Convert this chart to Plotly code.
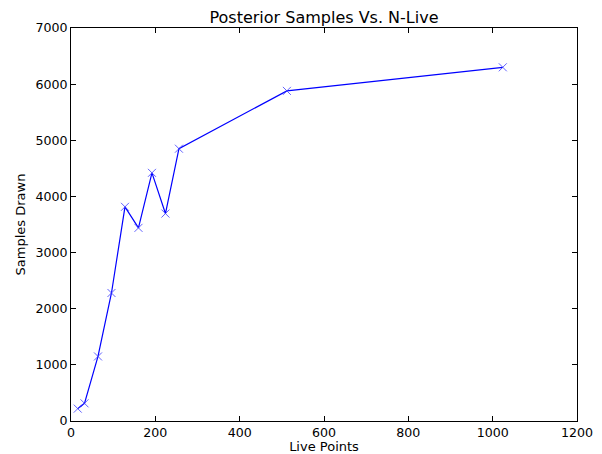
import plotly.graph_objects as go

live_points = [16, 32, 64, 96, 128, 160, 192, 224, 256, 512, 1024]
samples_drawn = [220, 315, 1150, 2280, 3815, 3440, 4420, 3695, 4850, 5880, 6300]

fig = go.Figure()
fig.add_trace(go.Scatter(
    x=live_points, y=samples_drawn, mode="lines+markers",
    line=dict(color="#0000ff", width=1.2),
    marker=dict(symbol="x-thin", size=8, line=dict(color="rgba(60,60,255,0.8)", width=1), color="#0000ff"),
    showlegend=False,
))

axis_common = dict(
    showline=True, linecolor="black", linewidth=1, mirror="allticks",
    ticks="inside", ticklen=5, tickcolor="black", showgrid=False, zeroline=False,
    automargin=False,
    tickfont=dict(family="DejaVu Sans", size=12.6, color="black"),
)

fig.update_layout(
    width=602, height=454,
    margin=dict(l=71, r=25, t=28, b=33),
    paper_bgcolor="white", plot_bgcolor="white",
    title=dict(text="Posterior Samples Vs. N-Live", x=0.5, xanchor="center",
               xref="paper",
               y=1 - 17 / 454, yanchor="middle",
               font=dict(family="DejaVu Sans", size=16, color="black")),
    xaxis=dict(range=[0, 1200], dtick=200, tick0=0,
               title=dict(text="Live Points", standoff=0,
                          font=dict(family="DejaVu Sans", size=13, color="black")),
               **axis_common),
    yaxis=dict(range=[0, 7000], dtick=1000, tick0=0,
               title=dict(text="Samples Drawn", standoff=6,
                          font=dict(family="DejaVu Sans", size=13, color="black")),
               **axis_common),
)

fig.write_html("out.html")
